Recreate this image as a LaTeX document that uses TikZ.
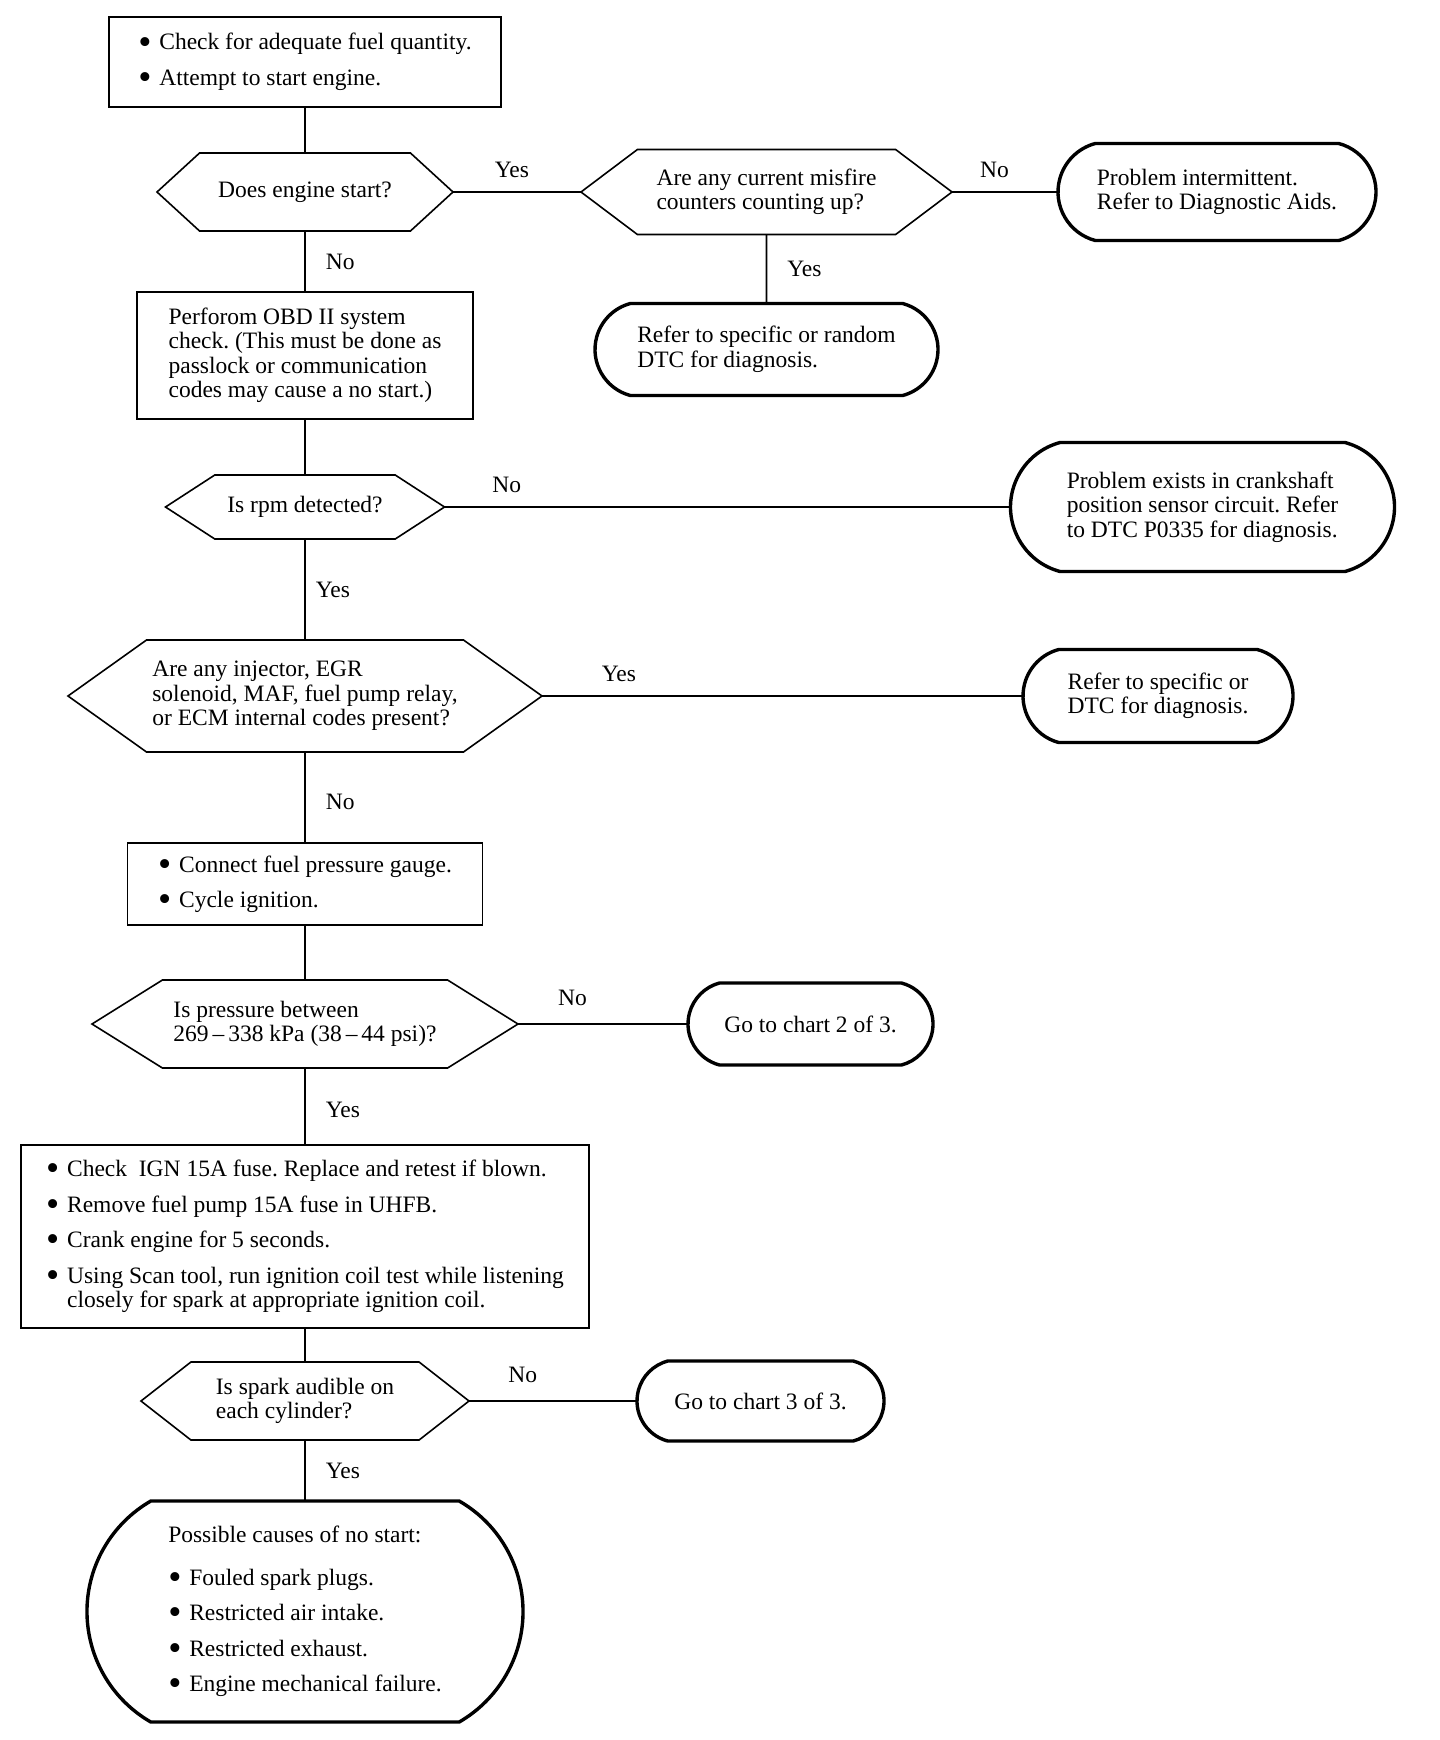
\documentclass[tikz,border=0pt]{standalone}
\usepackage{fontspec}
\setmainfont{Liberation Serif}
\frenchspacing
\usetikzlibrary{positioning, shapes.symbols, shapes.misc}
\tikzset{
  every picture/.style={line width=1.6pt},
  lab/.style={inner sep=0pt},
}
\newcommand{\bul}{\makebox[21pt][l]{\raisebox{-0.18em}{\scalebox{1.6}{\textbullet}}}}

\begin{document}
\begin{tikzpicture}[x=1pt, y=-1pt, font=\fontsize{23.5}{24.5}\selectfont,
  box/.style={draw, rectangle, align=left, inner sep=0pt, outer sep=0pt},
  ask/.style={draw, signal, signal to=east and west, signal pointer angle=#1, align=left, inner sep=0pt, outer sep=0pt},
  ask/.default=74,
  term/.style={draw, rounded rectangle, rounded rectangle arc length=150, line width=3.4pt, align=left, inner sep=0pt, outer sep=0pt}]
  \useasboundingbox (0,0) rectangle (1440,1740);
  % main column
  \node[box, minimum width=392pt, minimum height=90pt] (fuel) at (305,62) {\bul Check for adequate fuel quantity.\\[11pt]\bul Attempt to start engine.};
  \node[ask=85, align=center, minimum width=296pt, minimum height=78pt, below=46pt of fuel] (starts) {Does engine start?};
  \node[box, minimum width=336pt, minimum height=127pt, below=61pt of starts] (obd) {Perforom OBD II system\\check. (This must be done as\\passlock or communication\\codes may cause a no start.)};
  \node[ask=66, align=center, minimum width=279pt, minimum height=64pt, below=56pt of obd] (rpm) {Is rpm detected?};
  \node[ask=71, minimum width=474pt, minimum height=112pt, below=101pt of rpm] (codes) {Are any injector, EGR\\solenoid, MAF, fuel pump relay,\\or ECM internal codes present?};
  \node[box, minimum width=355pt, minimum height=82pt, below=91pt of codes] (gauge) {\bul Connect fuel pressure gauge.\\[11pt]\bul Cycle ignition.};
  \node[ask=64, minimum width=426pt, minimum height=88pt, below=55pt of gauge] (press) {Is pressure between\\269\,--\,338 kPa (38\,--\,44 psi)?};
  \node[box, minimum width=568pt, minimum height=183pt, below=77pt of press] (spark) {\bul Check~ IGN 15A fuse. Replace and retest if blown.\\[11pt]\bul Remove fuel pump 15A fuse in UHFB.\\[11pt]\bul Crank engine for 5 seconds.\\[11pt]\bul Using Scan tool, run ignition coil test while listening\\\hspace*{21pt}closely for spark at appropriate ignition coil.};
  \node[ask=76, minimum width=328pt, minimum height=78pt, below=34pt of spark] (audible) {Is spark audible on\\each cylinder?};
  \node[term, rounded rectangle arc length=120, minimum width=436pt, minimum height=221pt, below=61pt of audible] (causes) {Possible causes of no start:\\[18pt]\bul Fouled spark plugs.\\[11pt]\bul Restricted air intake.\\[11pt]\bul Restricted exhaust.\\[11pt]\bul Engine mechanical failure.};
  % right side
  \node[ask=74, minimum width=371pt, minimum height=85pt, right=128pt of starts] (misfire) {Are any current misfire\\counters counting up?};
  \node[term, minimum width=318pt, minimum height=97pt, right=106pt of misfire] (intermit) {Problem intermittent.\\Refer to Diagnostic Aids.};
  \node[term, minimum width=343pt, minimum height=92pt, below=69pt of misfire] (random) {Refer to specific or random\\DTC for diagnosis.};
  \node[term, minimum width=384pt, minimum height=129pt, right=566pt of rpm] (crank) {Problem exists in crankshaft\\position sensor circuit. Refer\\to DTC P0335 for diagnosis.};
  \node[term, minimum width=270pt, minimum height=93pt, right=481pt of codes] (specific) {Refer to specific or\\DTC for diagnosis.};
  \node[term, minimum width=245pt, minimum height=82pt, right=170pt of press] (chart2) {Go to chart 2 of 3.};
  \node[term, minimum width=247pt, minimum height=80pt, right=168pt of audible] (chart3) {Go to chart 3 of 3.};
  % connectors
  \draw (fuel) -- (starts);
  \draw (starts) -- node[lab, pos=0.46, above=13pt] {Yes} (misfire);
  \draw (misfire) -- node[lab, pos=0.4, above=13pt] {No} (intermit);
  \draw (misfire) -- node[lab, right=20pt] {Yes} (random);
  \draw (starts) -- node[lab, right=20pt] {No} (obd);
  \draw (obd) -- (rpm);
  \draw (rpm) -- node[lab, pos=0.11, above=13pt] {No} (crank);
  \draw (rpm) -- node[lab, right=10pt] {Yes} (codes);
  \draw (codes) -- node[lab, pos=0.16, above=13pt] {Yes} (specific);
  \draw (codes) -- node[lab, pos=0.55, right=20pt] {No} (gauge);
  \draw (gauge) -- (press);
  \draw (press) -- node[lab, pos=0.32, above=17pt] {No} (chart2);
  \draw (press) -- node[lab, pos=0.55, right=20pt] {Yes} (spark);
  \draw (spark) -- (audible);
  \draw (audible) -- node[lab, pos=0.32, above=17pt] {No} (chart3);
  \draw (audible) -- node[lab, right=20pt] {Yes} (causes);
\end{tikzpicture}
\end{document}
